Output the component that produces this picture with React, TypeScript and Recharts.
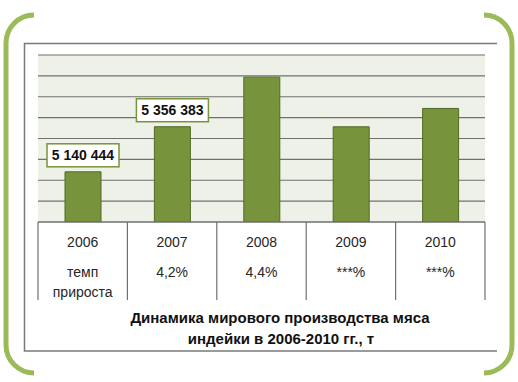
import React from 'react';
import { BarChart, Bar, XAxis, YAxis, CartesianGrid, LabelList } from 'recharts';

const years = ['2006', '2007', '2008', '2009', '2010'];
const production = [5140444, 5356383, 5594000, 5356000, 5444000];
const valueLabels = ['5 140 444', '5 356 383', '', '', ''];
const growthTop = ['темп', '4,2%', '4,4%', '***%', '***%'];
const growthBottom = ['прироста', '', '', '', ''];
const yTicks = [4900000, 5000000, 5100000, 5200000, 5300000, 5400000, 5500000, 5600000, 5700000];

const data = years.map((year, i) => ({
  year,
  value: production[i],
  label: valueLabels[i],
  top: growthTop[i],
  bottom: growthBottom[i],
}));

const W = 518;
const H = 382;
const margin = { top: 55, right: 33, bottom: 80, left: 38 };
const bandWidth = (W - margin.left - margin.right) / years.length;
const FONT = '"Liberation Sans", Arial, sans-serif';
const GRID = '#707070';

function TableTick(props: any) {
  const { x, y, index } = props;
  const row = data[index];
  const half = bandWidth / 2;
  return (
    <g>
      {index === 0 && <line x1={x - half} y1={y} x2={x - half} y2={y + 78} stroke={GRID} strokeWidth={1.2} />}
      <line x1={x + half} y1={y} x2={x + half} y2={y + 78} stroke={GRID} strokeWidth={1.2} />
      <text x={x} y={y + 25} textAnchor="middle" fontSize={14} fill="#262626" fontFamily={FONT}>{row.year}</text>
      <text x={x} y={y + 55} textAnchor="middle" fontSize={14} fill="#262626" fontFamily={FONT}>{row.top}</text>
      {row.bottom && (
        <text x={x} y={y + 75} textAnchor="middle" fontSize={14} fill="#262626" fontFamily={FONT}>{row.bottom}</text>
      )}
    </g>
  );
}

function ValueBox(props: any) {
  const { x, y, width, value } = props;
  if (!value) return null;
  const cx = x + width / 2;
  const bw = 72;
  const bh = 23;
  const by = y - 5 - bh;
  return (
    <g>
      <rect x={cx - bw / 2} y={by} width={bw} height={bh} fill="#ffffff" stroke="#77933C" strokeWidth={1.5} />
      <text x={cx} y={by + bh / 2 + 5} textAnchor="middle" fontSize={14} fontWeight="bold" fill="#111" fontFamily={FONT}>
        {value}
      </text>
    </g>
  );
}

export default function App() {
  return (
    <div style={{ position: 'absolute', left: 0, top: 0, width: W, height: H, background: '#fff' }}>
      <svg width={W} height={H} style={{ position: 'absolute', left: 0, top: 0 }}>
        <path d="M34,15 A28,28 0 0 0 6,43 L6,345 A28,28 0 0 0 34,373" fill="none" stroke="#9BBB59" strokeWidth={5} />
        <path d="M484,15 A28,28 0 0 1 512,43 L512,345 A28,28 0 0 1 484,373" fill="none" stroke="#9BBB59" strokeWidth={5} />
        <path d="M497,43.5 L24.5,43.5 L24.5,351 L497,351" fill="none" stroke="#7a7a7a" strokeWidth={1.5} />
        <text x={280} y={323} textAnchor="middle" fontSize={15} fontWeight="bold" fill="#111" fontFamily={FONT}>
          Динамика мирового производства мяса
        </text>
        <text x={281} y={344} textAnchor="middle" fontSize={15} fontWeight="bold" fill="#111" fontFamily={FONT}>
          индейки в 2006-2010 гг., т
        </text>
      </svg>
      <div style={{ position: 'absolute', left: 0, top: 0 }}>
        <BarChart width={W} height={H} data={data} margin={margin} barSize={36}>
          <CartesianGrid vertical={false} stroke={GRID} strokeWidth={1.2} fill="#EEF1E8" />
          <YAxis hide type="number" domain={[4900000, 5700000]} ticks={yTicks} interval={0} allowDataOverflow />
          <XAxis
            dataKey="year"
            height={80}
            interval={0}
            tickLine={false}
            tickSize={0}
            tickMargin={0}
            axisLine={{ stroke: GRID, strokeWidth: 1.2 }}
            tick={<TableTick />}
          />
          <Bar dataKey="value" fill="#77933C" stroke="#526B27" strokeWidth={1} isAnimationActive={false}>
            <LabelList dataKey="label" content={<ValueBox />} />
          </Bar>
        </BarChart>
      </div>
    </div>
  );
}
